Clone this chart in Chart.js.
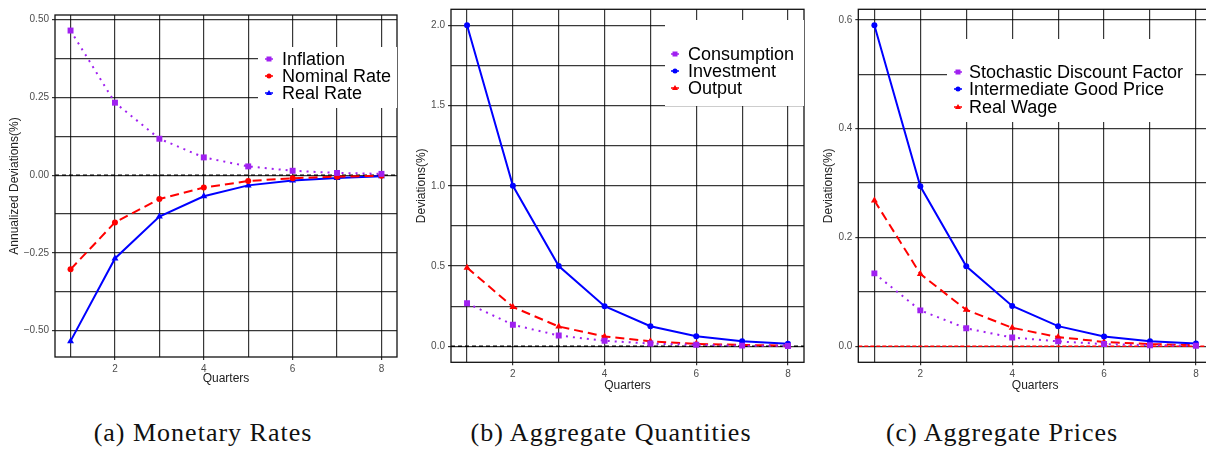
<!DOCTYPE html>
<html>
<head>
<meta charset="utf-8">
<script src="https://cdn.jsdelivr.net/npm/chart.js@4/dist/chart.umd.min.js"></script>
<style>
  html, body { margin: 0; padding: 0; background: #fff; width: 1206px; height: 449px; overflow: hidden; position: relative; }
  .panel { position: absolute; top: 0; }
  .caption { position: absolute; top: 420px; width: 400px; text-align: center; font: 26px "Liberation Serif", "DejaVu Serif", serif; letter-spacing: 1px; line-height: 1; color: #111; }
</style>
</head>
<body>
<div class="panel" style="left:0px"><canvas id="rates" width="402" height="392"></canvas></div>
<div class="panel" style="left:410px"><canvas id="quantities" width="399" height="400"></canvas></div>
<div class="panel" style="left:815px"><canvas id="prices" width="402" height="400"></canvas></div>
<div class="caption" style="left:3px">(a) Monetary Rates</div>
<div class="caption" style="left:411px">(b) Aggregate Quantities</div>
<div class="caption" style="left:802px">(c) Aggregate Prices</div>
<script>
// quarters after the shock
const quarters = [1, 2, 3, 4, 5, 6, 7, 8]
const xGrid = [1, 2, 3, 4, 5, 6, 7, 8]
const xLabeled = [2, 4, 6, 8]

// (a) monetary rates, annualized deviations (%)
const inflation = [0.465, 0.233, 0.117, 0.057, 0.028, 0.014, 0.007, 0.004]
const nominalRate = [-0.303, -0.152, -0.077, -0.040, -0.019, -0.010, -0.005, -0.002]
const realRate = [-0.534, -0.268, -0.133, -0.068, -0.033, -0.017, -0.009, -0.004]
const ratesGrid = [-0.5, -0.375, -0.25, -0.125, 0, 0.125, 0.25, 0.375, 0.5]
const ratesLabeled = [-0.5, -0.25, 0, 0.25, 0.5]

// (b) aggregate quantities, deviations (%)
const consumption = [0.268, 0.134, 0.067, 0.034, 0.017, 0.009, 0.004, 0.002]
const investment = [2.0, 1.0, 0.5, 0.25, 0.125, 0.063, 0.031, 0.016]
const output = [0.49, 0.245, 0.123, 0.061, 0.031, 0.015, 0.008, 0.004]
const quantitiesGrid = [0, 0.25, 0.5, 0.75, 1.0, 1.25, 1.5, 1.75, 2.0]
const quantitiesLabeled = [0, 0.5, 1.0, 1.5, 2.0]

// (c) aggregate prices, deviations (%)
const discountFactor = [0.134, 0.066, 0.033, 0.016, 0.009, 0.004, 0.002, 0.001]
const goodPrice = [0.59, 0.294, 0.147, 0.074, 0.037, 0.018, 0.009, 0.005]
const realWage = [0.268, 0.133, 0.067, 0.034, 0.017, 0.008, 0.004, 0.002]
const pricesGrid = [0, 0.1, 0.2, 0.3, 0.4, 0.5, 0.6]
const pricesLabeled = [0, 0.2, 0.4, 0.6]

const PURPLE = "#A020F0"
const RED = "#FF0000"
const BLUE = "#0000FF"
const GRID = "rgba(0,0,0,0.78)"
const SANS = "'Liberation Sans', Arial, sans-serif"

function points(values) {
  return quarters.map((q, i) => ({ x: q, y: values[i] }))
}

function dotted(label, values) {
  return {
    label: label, data: points(values), borderColor: PURPLE, backgroundColor: PURPLE,
    borderWidth: 2, borderDash: [2, 5], pointStyle: "rect", pointRadius: 4.2, pointBorderWidth: 0,
  }
}
function solid(label, values, style) {
  return {
    label: label, data: points(values), borderColor: BLUE, backgroundColor: BLUE,
    borderWidth: 2, pointStyle: style, pointRadius: style === "triangle" ? 4 : 3, pointBorderWidth: 0,
  }
}
function dashed(label, values, style) {
  return {
    label: label, data: points(values), borderColor: RED, backgroundColor: RED,
    borderWidth: 2, borderDash: [9, 5], pointStyle: style, pointRadius: style === "triangle" ? 4 : 3, pointBorderWidth: 0,
  }
}

function marker(ctx, style, x, y, r) {
  ctx.beginPath()
  if (style === "rect") ctx.rect(x - r, y - r, 2 * r, 2 * r)
  else if (style === "circle") ctx.arc(x, y, r, 0, Math.PI * 2)
  else {
    ctx.moveTo(x, y - r * 1.2)
    ctx.lineTo(x + r * 1.2, y + r * 0.8)
    ctx.lineTo(x - r * 1.2, y + r * 0.8)
    ctx.closePath()
  }
  ctx.fill()
}

// frame, zero line and the white legend box
const panelDecor = {
  id: "panelDecor",
  beforeDatasetsDraw(chart, args, opts) {
    const { ctx, chartArea: a } = chart
    const y0 = chart.scales.y.getPixelForValue(0)
    ctx.save()
    ctx.strokeStyle = opts.zeroColor
    ctx.lineWidth = 1.4
    ctx.setLineDash(opts.zeroDash)
    ctx.beginPath()
    ctx.moveTo(a.left, y0)
    ctx.lineTo(a.right, y0)
    ctx.stroke()
    ctx.setLineDash([])
    ctx.strokeStyle = "#111"
    ctx.lineWidth = 1.3
    ctx.strokeRect(a.left, a.top, a.right - a.left, a.bottom - a.top)
    ctx.restore()
  },
  afterDraw(chart, args, opts) {
    const ctx = chart.ctx
    const b = opts.box
    ctx.save()
    ctx.fillStyle = "#fff"
    ctx.fillRect(b[0], b[1], b[2] - b[0], b[3] - b[1])
    ctx.font = "18px " + SANS
    ctx.textBaseline = "middle"
    chart.data.datasets.forEach((ds, i) => {
      const y = opts.rows[i]
      ctx.strokeStyle = ds.borderColor
      ctx.lineWidth = 1.5
      ctx.beginPath()
      ctx.moveTo(opts.markerX - 4, y)
      ctx.lineTo(opts.markerX + 4, y)
      ctx.stroke()
      ctx.fillStyle = ds.borderColor
      marker(ctx, ds.pointStyle, opts.markerX, y, 2.5)
      ctx.fillStyle = "#000"
      ctx.fillText(ds.label, opts.textX, y + 1)
    })
    ctx.restore()
  },
}

function makePanel(id, p) {
  const fmt = (v) => v.toFixed(p.decimals).replace("-", "\u2212")
  return new Chart(document.getElementById(id), {
    type: "line",
    data: { datasets: p.datasets },
    plugins: [panelDecor],
    options: {
      responsive: false,
      animation: false,
      layout: { padding: { top: p.top, right: 5, left: 0, bottom: 0 } },
      elements: { line: { tension: 0, borderCapStyle: "butt" } },
      plugins: {
        legend: { display: false },
        tooltip: { enabled: false },
        panelDecor: p.decor,
      },
      scales: {
        x: {
          type: "linear",
          min: 0.65,
          max: 8.35,
          afterBuildTicks: (s) => { s.ticks = xGrid.map((v) => ({ value: v })) },
          afterFit: (s) => { s.height = p.xh },
          border: { display: false },
          grid: {
            color: GRID, lineWidth: 1.2, tickLength: 3,
            tickColor: (c) => (c.tick && xLabeled.includes(c.tick.value) ? "#333" : "transparent"),
          },
          ticks: {
            autoSkip: false, maxRotation: 0, padding: 3, color: "#4d4d4d",
            font: { family: SANS, size: 10 },
            callback: (v) => (xLabeled.includes(v) ? String(v) : ""),
          },
          title: {
            display: true, text: "Quarters", color: "#222",
            font: { family: SANS, size: 12 }, padding: { top: 0, bottom: p.xTitlePad },
          },
        },
        y: {
          type: "linear",
          min: p.yMin,
          max: p.yMax,
          afterBuildTicks: (s) => { s.ticks = p.yGrid.map((v) => ({ value: v })) },
          afterFit: (s) => { s.width = p.yw },
          border: { display: false },
          grid: {
            color: GRID, lineWidth: 1.2, tickLength: 3,
            tickColor: (c) => (c.tick && p.yLabeled.includes(c.tick.value) ? "#333" : "transparent"),
          },
          ticks: {
            autoSkip: false, padding: 3, color: "#4d4d4d",
            font: { family: SANS, size: 10 },
            callback: (v) => (p.yLabeled.includes(v) ? fmt(v) : ""),
          },
          title: {
            display: true, text: p.yTitle, color: "#222",
            font: { family: SANS, size: 12 }, padding: { top: p.yTitlePad, bottom: 0 },
          },
        },
      },
    },
  })
}

document.addEventListener("DOMContentLoaded", () => {
  makePanel("rates", {
    datasets: [
      dotted("Inflation", inflation),
      dashed("Nominal Rate", nominalRate, "circle"),
      solid("Real Rate", realRate, "triangle"),
    ],
    yMin: -0.585, yMax: 0.515, yGrid: ratesGrid, yLabeled: ratesLabeled, decimals: 2,
    yTitle: "Annualized Deviations(%)",
    top: 15, yw: 55, xh: 35, yTitlePad: 7.8, xTitlePad: 5.8,
    decor: { zeroColor: "#000", zeroDash: [4, 3], box: [258, 47, 397, 108], rows: [59, 76, 93], markerX: 269, textX: 282 },
  })
  makePanel("quantities", {
    datasets: [
      dotted("Consumption", consumption),
      solid("Investment", investment, "circle"),
      dashed("Output", output, "triangle"),
    ],
    yMin: -0.1, yMax: 2.1, yGrid: quantitiesGrid, yLabeled: quantitiesLabeled, decimals: 1,
    yTitle: "Deviations(%)",
    top: 9.3, yw: 41, xh: 37.7, yTitlePad: 4.5, xTitlePad: 7.1,
    decor: { zeroColor: "#000", zeroDash: [4, 3], box: [255, 20, 394, 106], rows: [54, 71, 88], markerX: 265, textX: 278 },
  })
  makePanel("prices", {
    datasets: [
      dotted("Stochastic Discount Factor", discountFactor),
      solid("Intermediate Good Price", goodPrice, "circle"),
      dashed("Real Wage", realWage, "triangle"),
    ],
    yMin: -0.0295, yMax: 0.6195, yGrid: pricesGrid, yLabeled: pricesLabeled, decimals: 1,
    yTitle: "Deviations(%)",
    top: 9.3, yw: 43.3, xh: 37.7, yTitlePad: 6.8, xTitlePad: 7.1,
    decor: { zeroColor: RED, zeroDash: [4, 2], box: [132, 39, 380, 122], rows: [72, 89, 107], markerX: 143, textX: 154 },
  })
})
</script>
</body>
</html>
